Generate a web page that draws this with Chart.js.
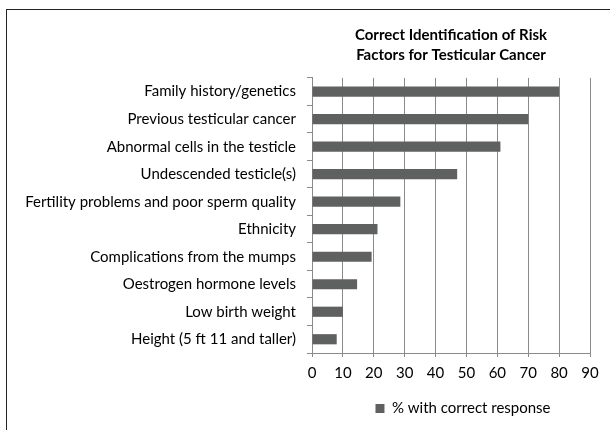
<!DOCTYPE html>
<html><head><meta charset="utf-8">
<script src="https://cdn.jsdelivr.net/npm/chart.js@4"></script>
<style>
html,body{margin:0;padding:0;background:#fff;width:610px;height:430px;overflow:hidden}
#frame{position:absolute;left:6px;top:9px;width:700px;height:500px;border:1.5px solid #222;box-sizing:border-box}
#wrap{position:absolute;left:0;top:0;width:610px;height:430px}
</style></head><body>
<div id="frame"></div>
<div id="wrap"><canvas id="c" width="610" height="430"></canvas></div>
<script>
const categories = [
  "Family history/genetics",
  "Previous testicular cancer",
  "Abnormal cells in the testicle",
  "Undescended testicle(s)",
  "Fertility problems and poor sperm quality",
  "Ethnicity",
  "Complications from the mumps",
  "Oestrogen hormone levels",
  "Low birth weight",
  "Height (5 ft 11 and taller)"
];
const correctPct = [80, 70, 61, 47, 28.6, 21.2, 19.3, 14.6, 10, 8];
const seriesLabel = "% with correct response";
const titleLines = ["Correct Identification of Risk", "Factors for Testicular Cancer"];
const xTicks = [0,10,20,30,40,50,60,70,80,90];

const FONT = "Lato, 'Open Sans', sans-serif";

const legendShift = {
  id: 'legendShift',
  afterInit(chart) {
    const lg = chart.legend;
    if (!lg) return;
    const orig = lg.draw;
    lg.draw = function (...args) {
      const ctx = chart.ctx;
      ctx.save();
      ctx.translate(12, -1);
      orig.apply(this, args);
      ctx.restore();
    };
  }
};

new Chart(document.getElementById('c'), {
  type: 'bar',
  data: {
    labels: categories,
    datasets: [{
      label: seriesLabel,
      data: correctPct,
      backgroundColor: '#5f6160',
      borderWidth: 0,
      barPercentage: 0.37,
      categoryPercentage: 1
    }]
  },
  options: {
    indexAxis: 'y',
    responsive: false,
    animation: false,
    devicePixelRatio: 1,
    layout: { padding: { left: 10, right: 20, top: 0, bottom: 3 } },
    scales: {
      x: {
        min: 0, max: 90,
        afterBuildTicks: s => { s.ticks = xTicks.map(v => ({value: v})); },
        grid: { color: '#8a8a8a', lineWidth: 1, tickLength: 4, drawTicks: true },
        border: { color: '#8a8a8a', width: 1 },
        ticks: { color: '#000', font: { family: FONT, size: 15 }, padding: 7 }
      },
      y: {
        afterFit: s => { s.width = 302; },
        grid: { display: true, drawOnChartArea: false, drawTicks: true, tickLength: 5, color: '#8a8a8a', offset: true },
        border: { color: '#8a8a8a', width: 1 },
        ticks: { color: '#000', font: { family: FONT, size: 15 }, padding: 11 }
      }
    },
    plugins: {
      title: {
        display: true, text: titleLines, fullSize: false,
        color: '#000', font: { family: FONT, size: 15, weight: 'bold', lineHeight: 1.33 },
        padding: { top: 25, bottom: 13 }
      },
      legend: {
        display: true, position: 'bottom', fullSize: false,
        labels: { color: '#000', font: { family: FONT, size: 15 }, boxWidth: 9, boxHeight: 9, padding: 13 }
      },
      tooltip: { enabled: false }
    }
  },
  plugins: [legendShift]
});
</script>
</body></html>
